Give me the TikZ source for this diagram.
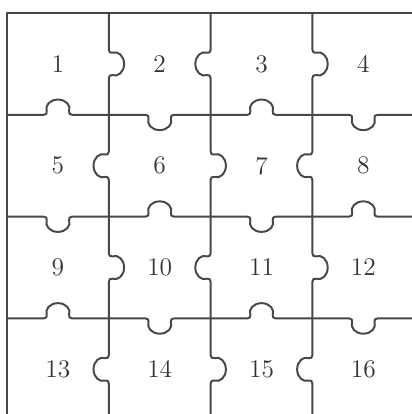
\documentclass[tikz,border=0pt]{standalone}
\usepackage{tikz}

\begin{document}
\begin{tikzpicture}[x=2cm, y=2cm, font=\fontsize{14.2}{17}\selectfont,
     cut/.style={draw=black!72, line width=1.1pt, line join=round},
     num/.style={text=black!80},
     joint/.pic={\path[cut] (0,0) -- (0.36,0)
        .. controls (0.385,0) and (0.395,0.015) .. (0.39,0.035)
        .. controls (0.37,0.09) and (0.42,0.15) .. (0.5,0.15)
        .. controls (0.58,0.15) and (0.63,0.09) .. (0.61,0.035)
        .. controls (0.605,0.015) and (0.615,0) .. (0.64,0) -- (1,0);}]
    \useasboundingbox (-0.069,0.128) rectangle (3.978,-3.939);
    \draw[cut] (0,-4) -- (0,0) -- (4,0) -- (4,-4) -- cycle;
    % vertical cuts: tab to the right when r+c is even
    \foreach \r in {1,...,4}
      \foreach \c in {1,2,3} {
        \pgfmathsetmacro\s{1-2*mod(\r+\c,2)}
        \pic[rotate=-90, yscale=\s] at (\c,1-\r) {joint};
      }
    % horizontal cuts: tab upwards when r+c is even
    \foreach \r in {1,2,3}
      \foreach \c in {1,...,4} {
        \pgfmathsetmacro\s{1-2*mod(\r+\c,2)}
        \pic[yscale=\s] at (\c-1,-\r) {joint};
      }
    % piece numbers
    \foreach \r in {0,...,3}
      \foreach \c in {1,...,4} {
        \pgfmathtruncatemacro\n{4*\r+\c}
        \node[num] (p\n) at (\c-0.5,-\r-0.5) {\n};
      }
  \end{tikzpicture}
\end{document}
